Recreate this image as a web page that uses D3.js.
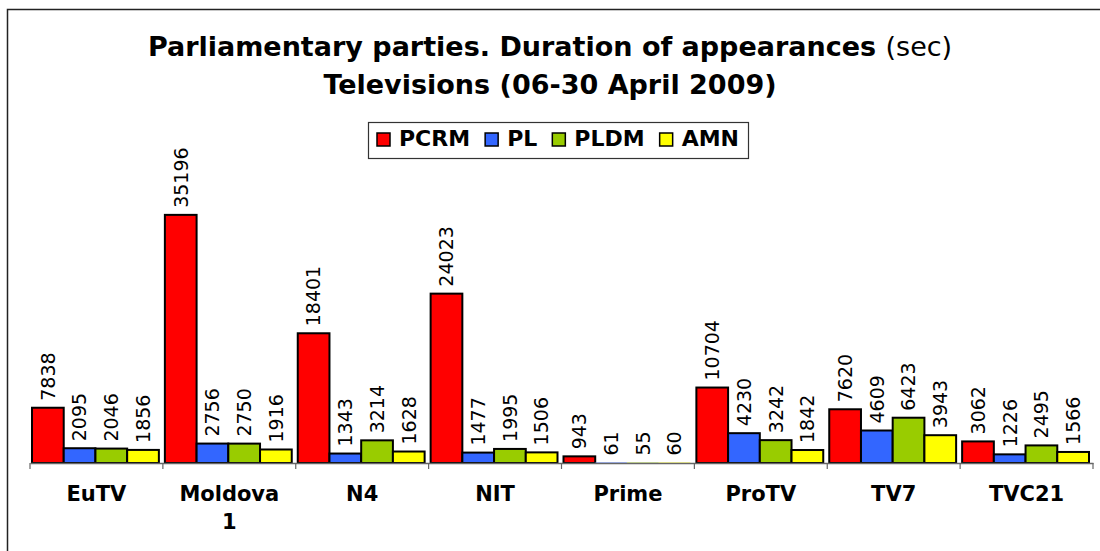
<!DOCTYPE html>
<html>
<head>
<meta charset="utf-8">
<script src="https://cdn.jsdelivr.net/npm/d3@7"></script>
<style>
  body { margin: 0; background: #fff; }
  text { font-family: Verdana, "DejaVu Sans", sans-serif; }
</style>
</head>
<body>
<script>
// chart data
var channels = ["EuTV", "Moldova 1", "N4", "NIT", "Prime", "ProTV", "TV7", "TVC21"];
var parties = ["PCRM", "PL", "PLDM", "AMN"];
var partyColors = ["#ff0000", "#3366ff", "#99cc00", "#ffff00"];
var PCRM = [7838, 35196, 18401, 24023, 943, 10704, 7620, 3062];
var PL   = [2095, 2756, 1343, 1477, 61, 4230, 4609, 1226];
var PLDM = [2046, 2750, 3214, 1995, 55, 3242, 6423, 2495];
var AMN  = [1856, 1916, 1628, 1506, 60, 1842, 3943, 1566];
var series = [PCRM, PL, PLDM, AMN];

var width = 1100, height = 551;
var margin = {left: 30, right: 7, top: 181, bottom: 88};

var svg = d3.select("body").append("svg")
    .attr("width", width)
    .attr("height", height);

// outer frame (right/bottom edges fall outside the picture)
svg.append("rect")
    .attr("x", 7.5).attr("y", 9.5)
    .attr("width", 1200).attr("height", 700)
    .attr("fill", "none")
    .attr("stroke", "#222")
    .attr("stroke-width", 1.5);

// scales
var x0 = d3.scaleBand().domain(channels)
    .range([margin.left, width - margin.right]);
var x1 = d3.scaleBand().domain(parties)
    .range([2, x0.bandwidth() - 4]);
var y = d3.scaleLinear().domain([0, 40000])
    .range([height - margin.bottom, margin.top]);

var color = d3.scaleOrdinal().domain(parties).range(partyColors);

// rows for the bars
var rows = [];
channels.forEach(function(c, i) {
  parties.forEach(function(p, j) {
    rows.push({channel: c, party: p, value: series[j][i]});
  });
});

// bars
svg.append("g").selectAll("rect")
    .data(rows)
  .enter().append("rect")
    .attr("x", function(d) { return x0(d.channel) + x1(d.party); })
    .attr("y", function(d) { return y(d.value); })
    .attr("width", x1.bandwidth())
    .attr("height", function(d) { return y(0) - y(d.value); })
    .attr("fill", function(d) { return color(d.party); })
    .attr("stroke", function(d) { return d.value < 100 ? "none" : "#000"; })
    .attr("stroke-width", 2);

// value labels (rotated)
svg.append("g").selectAll("text")
    .data(rows)
  .enter().append("text")
    .attr("transform", function(d) {
      var cx = x0(d.channel) + x1(d.party) + x1.bandwidth() / 2;
      return "translate(" + cx + "," + (y(d.value) - 7) + ") rotate(-90)";
    })
    .attr("dy", "0.36em")
    .attr("font-size", "19px")
    .attr("fill", "#000")
    .text(function(d) { return d.value; });

// x axis line and ticks
var xAxis = d3.axisBottom(x0).tickSize(0).tickFormat("");
var axisG = svg.append("g")
    .attr("transform", "translate(0," + y(0) + ")")
    .call(xAxis);
axisG.select(".domain").attr("stroke", "#666").attr("stroke-width", 1.5);
axisG.selectAll(".tick").remove();

var bounds = channels.map(function(c) { return x0(c); }).concat([x0.range()[1]]);
axisG.selectAll("line.sep")
    .data(bounds)
  .enter().append("line")
    .attr("class", "sep")
    .attr("x1", function(d) { return d; })
    .attr("x2", function(d) { return d; })
    .attr("y1", 0).attr("y2", 6)
    .attr("stroke", "#666")
    .attr("stroke-width", 1.2);

// category labels
var catLabels = svg.append("g").selectAll("text")
    .data(channels)
  .enter().append("text")
    .attr("x", function(d) { return x0(d) + x0.bandwidth() / 2; })
    .attr("y", y(0) + 38)
    .attr("text-anchor", "middle")
    .attr("font-size", "21px")
    .attr("font-weight", "bold");
catLabels.each(function(d) {
  var parts = d === "Moldova 1" ? ["Moldova", "1"] : [d];
  var t = d3.select(this);
  parts.forEach(function(p, k) {
    t.append("tspan")
      .attr("x", x0(d) + x0.bandwidth() / 2)
      .attr("dy", k === 0 ? 0 : 28)
      .text(p);
  });
});

// title
var title = svg.append("text")
    .attr("x", 550).attr("y", 56)
    .attr("text-anchor", "middle")
    .attr("font-size", "27px");
title.append("tspan").attr("font-weight", "bold")
    .text("Parliamentary parties. Duration of appearances ");
title.append("tspan").text("(sec)");

svg.append("text")
    .attr("x", 550).attr("y", 94)
    .attr("text-anchor", "middle")
    .attr("font-size", "27px")
    .attr("font-weight", "bold")
    .text("Televisions (06-30 April 2009)");

// legend
var legend = svg.append("g");
legend.append("rect")
    .attr("x", 368.5).attr("y", 122.5)
    .attr("width", 380).attr("height", 36)
    .attr("fill", "#fff")
    .attr("stroke", "#333")
    .attr("stroke-width", 1.2);

var item = legend.selectAll("g.item")
    .data(parties)
  .enter().append("g")
    .attr("class", "item");
item.append("rect")
    .attr("width", 13).attr("height", 13)
    .attr("fill", function(d) { return color(d); })
    .attr("stroke", "#000")
    .attr("stroke-width", 1.5);
item.append("text")
    .attr("x", 22).attr("y", 13)
    .attr("font-size", "22px")
    .attr("font-weight", "bold")
    .text(function(d) { return d; });

// lay the legend items out one after another inside the box
var widths = [];
item.select("text").each(function() { widths.push(this.getComputedTextLength() + 22); });
var inner = 380 - 18;
var gap = (inner - d3.sum(widths)) / (parties.length - 1);
var pos = 377;
item.attr("transform", function(d, i) {
  var t = "translate(" + pos + ",133)";
  pos += widths[i] + gap;
  return t;
});
</script>
</body>
</html>
